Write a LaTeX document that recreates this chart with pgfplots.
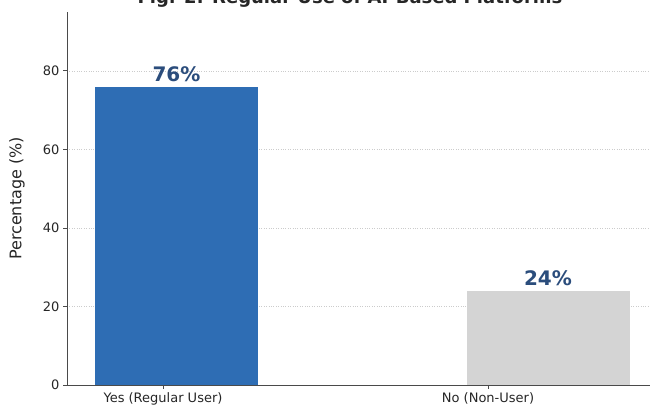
\documentclass[border=0pt]{standalone}
\usepackage{pgfplots}
\pgfplotsset{compat=1.18}
\usepackage{fontspec}
\setmainfont{DejaVu Sans}
\definecolor{barblue}{HTML}{2E6DB4}
\definecolor{bargray}{HTML}{D4D4D4}
\definecolor{lblblue}{HTML}{2B4D7C}
\definecolor{spine}{HTML}{4A4A4A}
\begin{document}
\begin{tikzpicture}[x=1pt,y=1pt]
\useasboundingbox (0,0) rectangle (653,414);
\node[font=\bfseries\fontsize{18}{20}\selectfont, anchor=base, text=black!85] at (350,410) {Fig. 2: Regular Use of AI-Based Platforms};
\begin{axis}[
  at={(67pt,29pt)}, anchor=south west,
  scale only axis, width=583pt, height=373pt,
  xmin=67, xmax=650, ymin=0, ymax=95,
  axis x line*=bottom, axis y line*=left,
  axis line style={-, draw=spine, line width=0.9pt},
  xtick={163,488}, xticklabels={Yes (Regular User), No (Non-User)},
  ytick={0,20,40,60,80},
  tick align=outside, major tick length=4pt,
  tick style={draw=spine, line width=0.8pt},
  ymajorgrids, grid style={dotted, black!20, line width=0.6pt},
  tick label style={font=\fontsize{13}{15}\selectfont, text=black!85},
  /pgf/number format/assume math mode=true,
  ylabel={Percentage (\%)},
  every axis y label/.style={at={(rel axis cs:0,0.5)}, xshift=-50pt, rotate=90, anchor=center, font=\fontsize{16}{18}\selectfont, text=black!85},
  nodes near coords={\pgfmathprintnumber{\pgfplotspointmeta}\%},
  nodes near coords style={font=\bfseries\fontsize{20}{22}\selectfont, text=lblblue, anchor=south, yshift=1pt},
]
\addplot[ybar, bar shift=0pt, bar width=163, fill=barblue, draw=none] coordinates {(176.5,76)};
\addplot[ybar, bar shift=0pt, bar width=163, fill=bargray, draw=none] coordinates {(548,24)};
\end{axis}
\end{tikzpicture}
\end{document}
